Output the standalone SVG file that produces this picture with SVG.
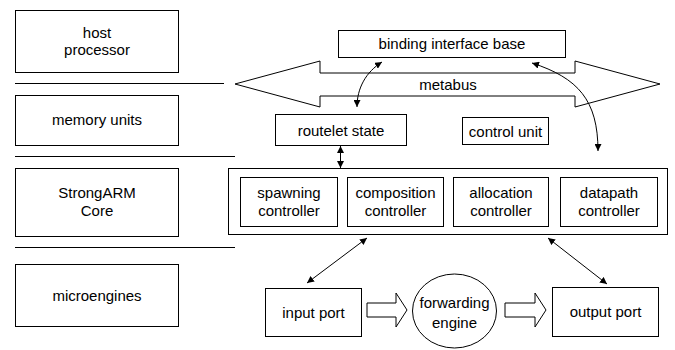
<svg xmlns="http://www.w3.org/2000/svg" width="675" height="350" viewBox="0 0 675 350">
<defs>
<marker id="ah" viewBox="0 0 10 10" refX="10" refY="5" markerWidth="7" markerHeight="7" markerUnits="userSpaceOnUse" orient="auto-start-reverse">
<path d="M0,0 L10,5 L0,10 z" fill="#000"/>
</marker>
</defs>
<style>
rect, polygon, ellipse { fill: #fff; stroke: #000; stroke-width: 1; }
.sep { stroke: #000; stroke-width: 1; }
.conn { fill: none; stroke: #000; stroke-width: 1; marker-start: url(#ah); marker-end: url(#ah); }
text { font-family: "Liberation Sans", Arial, sans-serif; font-size: 15px; fill: #000; text-anchor: middle; }
</style>
<rect x="0" y="0" width="675" height="350" style="fill:#fff;stroke:none"/>

<g id="separators">
<line class="sep" x1="15" y1="83.5" x2="224" y2="83.5"/>
<line class="sep" x1="15" y1="156.5" x2="235" y2="156.5"/>
<line class="sep" x1="15" y1="247.5" x2="235" y2="247.5"/>
</g>

<g id="host-processor">
<rect x="15.5" y="10.5" width="163" height="62"/>
<text x="97" y="38">host</text>
<text x="97" y="55">processor</text>
</g>
<g id="memory-units">
<rect x="15.5" y="95.5" width="163" height="50"/>
<text x="97" y="125">memory units</text>
</g>
<g id="strongarm-core">
<rect x="15.5" y="168.5" width="163" height="68"/>
<text x="97" y="198">StrongARM</text>
<text x="97" y="216">Core</text>
</g>
<g id="microengines">
<rect x="15.5" y="264.5" width="163" height="62"/>
<text x="97" y="301">microengines</text>
</g>

<g id="metabus">
<polygon points="235,84 320,61 320,73 575,73 575,61 660,84 575,107 575,96 320,96 320,107"/>
<text x="448" y="90">metabus</text>
</g>
<g id="binding-interface-base">
<rect x="338.5" y="30.5" width="227" height="27"/>
<text x="452" y="49">binding interface base</text>
</g>
<g id="routelet-state">
<rect x="275.5" y="114.5" width="131" height="31"/>
<text x="341" y="136">routelet state</text>
</g>
<g id="control-unit">
<rect x="462.5" y="117.5" width="86" height="27"/>
<text x="505.5" y="137">control unit</text>
</g>

<g id="strongarm-container">
<rect x="228.5" y="168.5" width="439" height="66"/>
</g>
<g id="spawning-controller">
<rect x="240.5" y="177.5" width="97" height="49"/>
<text x="289" y="198">spawning</text>
<text x="289" y="216">controller</text>
</g>
<g id="composition-controller">
<rect x="347.5" y="177.5" width="96" height="49"/>
<text x="395.5" y="198">composition</text>
<text x="395.5" y="216">controller</text>
</g>
<g id="allocation-controller">
<rect x="453.5" y="177.5" width="95" height="49"/>
<text x="501" y="198">allocation</text>
<text x="501" y="216">controller</text>
</g>
<g id="datapath-controller">
<rect x="560.5" y="177.5" width="97" height="49"/>
<text x="609" y="198">datapath</text>
<text x="609" y="216">controller</text>
</g>

<g id="input-port">
<rect x="265.5" y="288.5" width="96" height="48"/>
<text x="313.5" y="318">input port</text>
</g>
<g id="forwarding-engine">
<ellipse cx="454.5" cy="311" rx="42" ry="37"/>
<text x="454.5" y="308">forwarding</text>
<text x="454.5" y="328">engine</text>
</g>
<g id="output-port">
<rect x="552.5" y="287.5" width="106" height="49"/>
<text x="605.5" y="317">output port</text>
</g>

<g id="connectors">
<polygon points="367,303 396,303 396,293 407,310 396,327 396,317 367,317"/>
<polygon points="505,303 535,303 535,293 546,310 535,327 535,317 505,317"/>
<path class="conn" d="M382,62 C366,72 357,88 357,107"/>
<path class="conn" d="M532,63 C578,78 598,100 598,151"/>
<path class="conn" d="M340.5,146 L340.5,168"/>
<path class="conn" d="M367,238 L307,283"/>
<path class="conn" d="M548,238 L607,284"/>
</g>
</svg>
